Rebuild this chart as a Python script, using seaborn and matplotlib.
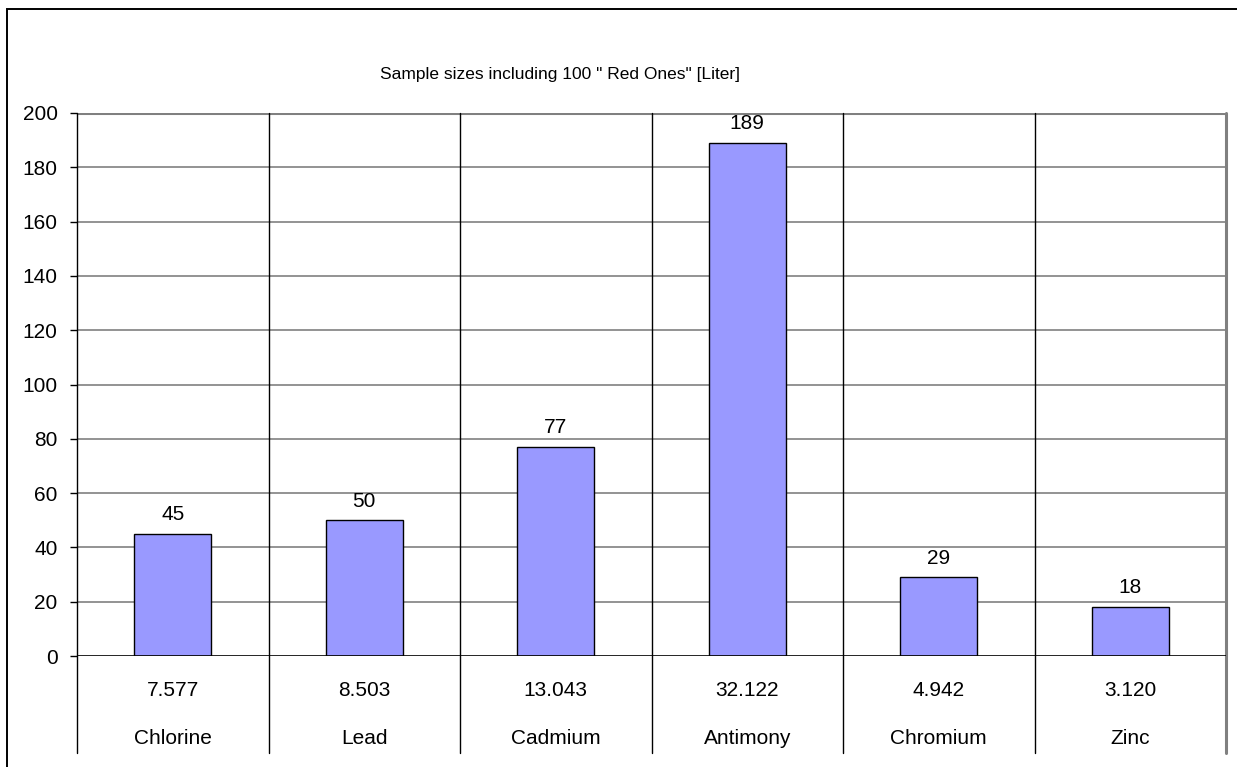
import matplotlib
matplotlib.use("Agg")
import matplotlib.pyplot as plt
import matplotlib.transforms as mtransforms
from matplotlib.patches import Rectangle
import seaborn as sns
import pandas as pd

elements = ["Chlorine", "Lead", "Cadmium", "Antimony", "Chromium", "Zinc"]
concentrations = ["7.577", "8.503", "13.043", "32.122", "4.942", "3.120"]
sample_sizes = [45, 50, 77, 189, 29, 18]
y_ticks = [0, 20, 40, 60, 80, 100, 120, 140, 160, 180, 200]
title = 'Sample sizes including 100 " Red Ones" [Liter]'

sns.set_theme(style="white")
plt.rcParams["font.family"] = ["Liberation Sans", "DejaVu Sans"]
plt.rcParams["text.color"] = "black"
plt.rcParams["ytick.color"] = "black"
plt.rcParams["ytick.labelcolor"] = "black"

W, H = 1237, 767
fig = plt.figure(figsize=(W / 100, H / 100), dpi=100)
fig.patch.set_facecolor("white")

# outer chart frame
fig.patches.append(Rectangle((7.5 / W, -0.05), 1.1, (H - 8.5) / H + 0.05,
                             transform=fig.transFigure, fill=False,
                             edgecolor="black", linewidth=1.4, zorder=0))

left, right, top, bottom = 77, 1226, 113, 656
ax = fig.add_axes([left / W, (H - bottom) / H, (right - left) / W, (bottom - top) / H])

df = pd.DataFrame({"element": elements, "size": sample_sizes})
sns.barplot(data=df, x="element", y="size", ax=ax, color="#9999FF",
            saturation=1, width=0.4, edgecolor="black", linewidth=1.0, zorder=3)

ax.set_xlim(-0.5, len(elements) - 0.5)
ax.set_ylim(0, 200)
ax.set_yticks(y_ticks)
ax.set_yticklabels([str(t) for t in y_ticks], fontsize=15, color="black")
ax.tick_params(axis="y", length=5, width=1, color="black", pad=9, left=True)
ax.set_xticks([])
ax.set_xlabel("")
ax.set_ylabel("")

# horizontal gridlines
for t in y_ticks[1:]:
    ax.axhline(t, color="#808080", linewidth=1.2, zorder=1)
ax.axhline(200, color="#808080", linewidth=2.2, zorder=1)
ax.axhline(0, color="black", linewidth=1.2, zorder=4)

for s in ["top", "bottom", "left", "right"]:
    ax.spines[s].set_visible(False)

# category dividers extending into the label table
blend = mtransforms.blended_transform_factory(ax.transData, ax.transAxes)
ext = -(753 - bottom) / (bottom - top)
for i in range(len(elements)):
    ax.plot([i - 0.5, i - 0.5], [ext, 1], transform=blend, color="black",
            linewidth=1.0, clip_on=False, zorder=2)
ax.plot([len(elements) - 0.5] * 2, [ext, 1], transform=blend, color="#808080",
        linewidth=2.2, clip_on=False, zorder=2)

# two-row category table below the axis
row1 = -(690 - bottom) / (bottom - top)
row2 = -(738 - bottom) / (bottom - top)
for i, (conc, name) in enumerate(zip(concentrations, elements)):
    ax.text(i, row1, conc, transform=blend, ha="center", va="center",
            fontsize=15, color="black")
    ax.text(i, row2, name, transform=blend, ha="center", va="center",
            fontsize=15, color="black")

# value labels above bars
for i, v in enumerate(sample_sizes):
    ax.annotate(str(v), (i, v), xytext=(0, 7), textcoords="offset points",
                ha="center", va="bottom", fontsize=15, color="black", zorder=5)

fig.text(560 / W, 1 - 75 / H, title, ha="center", va="center",
         fontsize=12.5, color="black")

fig.savefig("out.png", dpi=100, facecolor="white")
